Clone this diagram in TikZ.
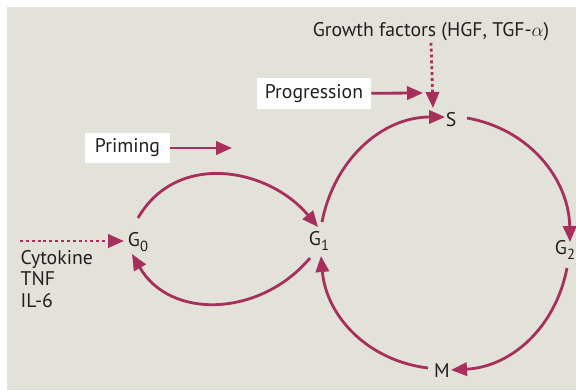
\documentclass[tikz,border=0pt]{standalone}
\usepackage{fontspec}
\setmainfont{PT Sans}
\usetikzlibrary{arrows.meta,calc,positioning}
\definecolor{bgC}{HTML}{E2E1DA}
\definecolor{arrC}{HTML}{A62F5B}
\definecolor{txtC}{HTML}{231F20}
\tikzset{
  lab/.style={font=\fontsize{14.8}{16}\selectfont, text=txtC, inner sep=1pt},
  phase/.style={lab},
  tag/.style={lab, fill=white, minimum height=23pt},
  arr/.style={-{Triangle[length=12pt,width=10pt]}, draw=arrC, line width=2.1pt},
  dotarr/.style={arr, dash pattern=on 2.2pt off 2.2pt},
}
\newcommand\phs[1]{G\raisebox{-3.6pt}{\fontsize{11}{11}\selectfont #1}}

\begin{document}
\begin{tikzpicture}[x=0.75pt,y=0.75pt]
\useasboundingbox (0,0) rectangle (576,-390);
\fill[bgC] (7,-7) rectangle (576,-390);
% phases
\node[phase] (g0) at (138,-242) {\phs{0}};
\node[phase] (g1) at (319,-241) {\phs{1}};
\node[phase] (s) at (451,-120) {S};
\node[phase] (g2) at (565,-250) {\phs{2}};
\node[phase] (m) at (442,-371) {M};
% labels
\node[tag, minimum width=64pt] (prime) at (127.5,-148) {Priming};
\node[tag, minimum width=85.5pt] (prog) at (314,-93.5) {Progression};
\node[lab] (growth) at (431,-32) {Growth factors (HGF, TGF-$\alpha$)};
\node[lab, anchor=north west, align=left] (cyto) at (19,-249) {Cytokine\\TNF\\IL-6};
\coordinate (primeend) at (232,-148);
\coordinate (progend) at (423,-93);
\coordinate (cytin) at (20,-241);
% G0 <-> G1
\draw[arr] ([shift={(0,24)}]g0.center) to[out=60,in=130,looseness=1.1] ([shift={(-1,14)}]g1.center);
\draw[arr] ([shift={(-9,-17)}]g1.center) to[out=-130,in=-60,looseness=1.1] ([shift={(-6,-12)}]g0.center);
% cycle
\draw[arr] ([shift={(3,19)}]g1.center) to[out=79,in=180] ([shift={(-6,3)}]s.center);
\draw[arr] ([shift={(16,2)}]s.center) to[out=-10,in=91] ([shift={(5,8)}]g2.center);
\draw[arr] ([shift={(2,-18)}]g2.center) to[out=-101,in=3] ([shift={(9,1)}]m.center);
\draw[arr] ([shift={(-14,3)}]m.center) to[out=173,in=-85] ([shift={(2,-15)}]g1.center);
% stimuli
\draw[arr] (prime) -- (primeend);
\draw[arr] (prog) -- (progend);
\draw[dotarr] (growth.south) -- ([shift={(-18,12)}]s.center);
\draw[dotarr] (cytin) -- ([shift={(-14,1)}]g0.center);
\end{tikzpicture}
\end{document}
